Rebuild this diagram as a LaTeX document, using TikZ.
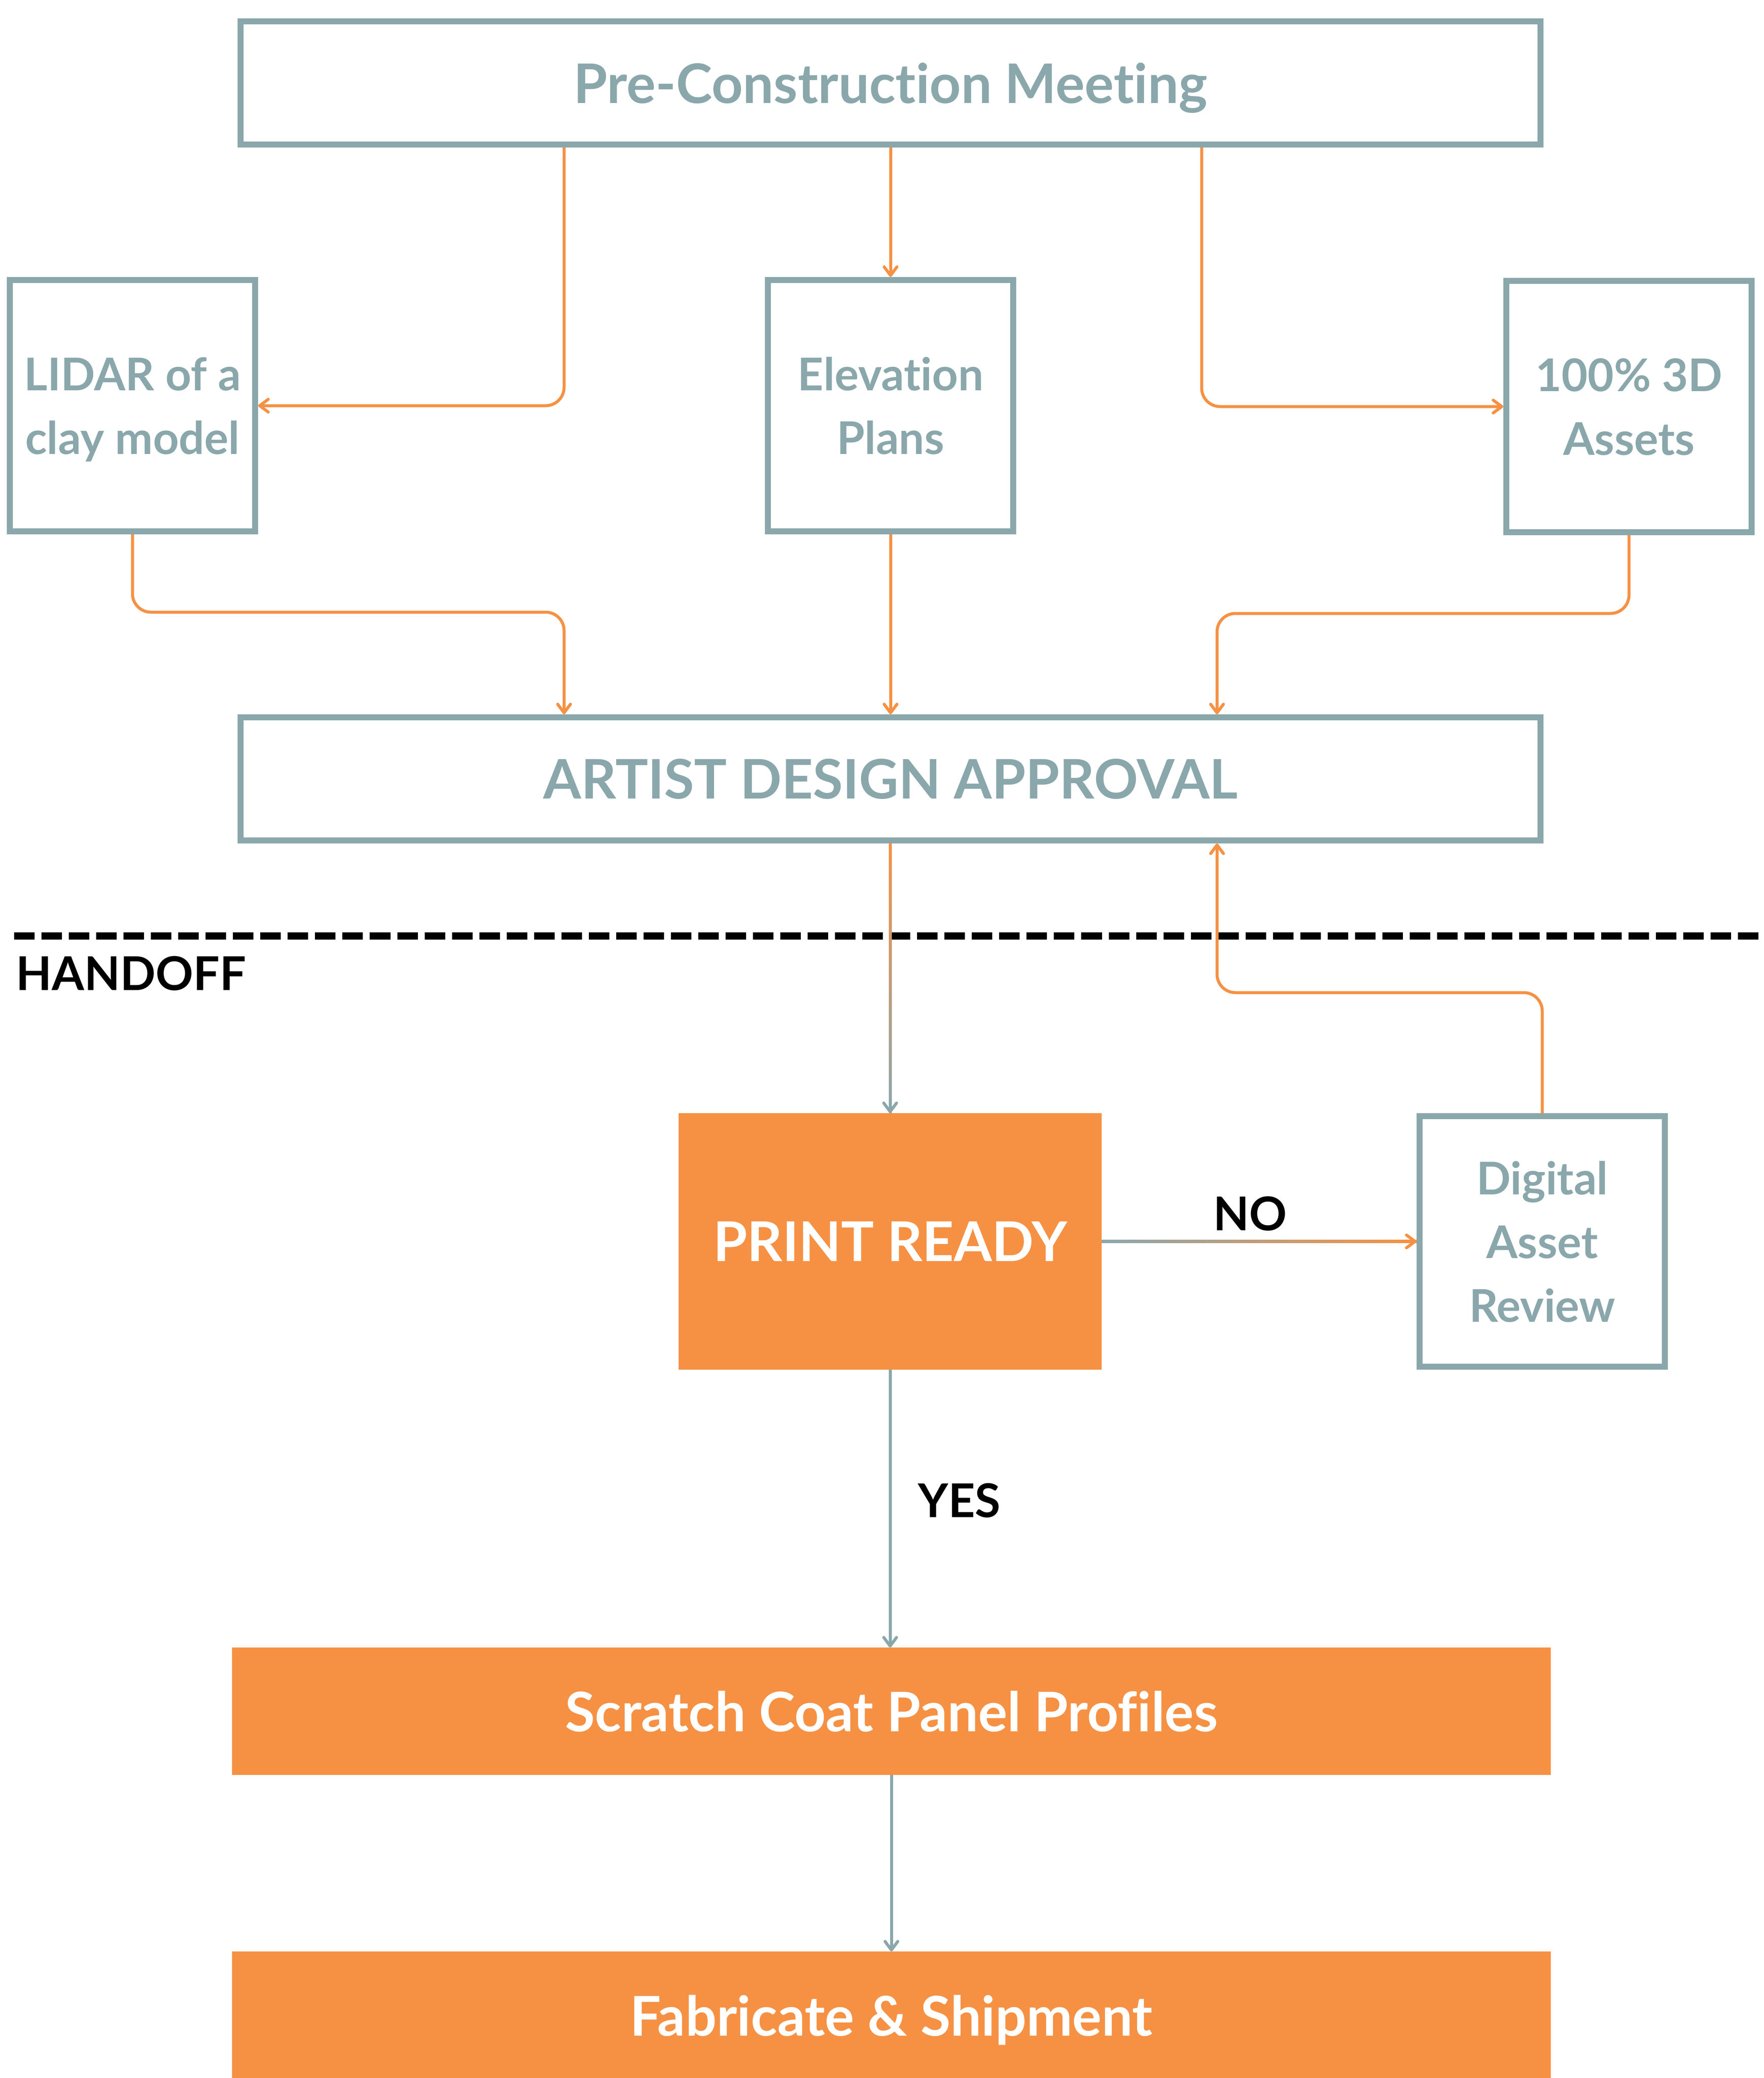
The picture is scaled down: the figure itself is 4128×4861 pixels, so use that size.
\documentclass[tikz,border=0pt]{standalone}
\usepackage{fontspec}
\setmainfont{Lato}[Ligatures=NoCommon]
\usetikzlibrary{positioning}
\usetikzlibrary{arrows.meta}

\definecolor{gris}{RGB}{138,167,172}
\definecolor{naranja}{RGB}{246,145,68}

\tikzset{
	caja/.style={draw=gris, line width=0.14cm, fill=white, inner sep=0pt, align=center, text depth=0pt, text=gris, font=\bfseries\fontsize{30}{42.4}\selectfont, minimum width=5.74cm, minimum height=5.88cm},
	ancha/.style={caja, minimum width=30.40cm, minimum height=2.88cm, font=\bfseries\fontsize{36.3}{44}\selectfont},
	llena/.style={fill=naranja, outer sep=0pt, inner sep=0pt, text depth=0pt, text=white, font=\bfseries\fontsize{36.5}{44}\selectfont},
	etiqueta/.style={inner sep=0pt, text=black, font=\bfseries\fontsize{31}{37}\selectfont},
	flecha/.style={naranja, line width=0.07cm, rounded corners=0.43cm, -{Straight Barb[length=5.7pt, width=8.5pt, round]}},
	flechagris/.style={flecha, gris},
	corte/.style={black, line width=0.17cm, dash pattern=on 0.48cm off 0.16cm}
}

\begin{document}
\begin{tikzpicture}[x=0.01cm, y=-0.01cm]
	\useasboundingbox (0,0) rectangle (4128,4861);

	% Cajas
	\node[ancha] (pcm) at (2084,194) {Pre-Construction Meeting};
	\node[caja] (lidar) at (310,949) {LIDAR of a\\clay model};
	\node[caja] (elev) at (2084,949) {Elevation\\Plans};
	\node[caja] (tresd) at (3812,951) {100\% 3D\\Assets};
	\node[ancha] (ada) at (2084,1822) {ARTIST DESIGN APPROVAL};
	\node[llena, minimum width=9.9cm, minimum height=6cm] (print) at (2083,2904) {PRINT READY};
	\node[caja, minimum height=5.86cm] (dar) at (3609,2904) {Digital\\Asset\\Review};
	\node[llena, minimum width=30.84cm, minimum height=2.98cm, font=\bfseries\fontsize{36.3}{44}\selectfont] (scratch) at (2086,4003) {Scratch Coat Panel Profiles};
	\node[llena, minimum width=30.84cm, minimum height=3cm] (fab) at (2086,4715) {Fabricate \& Shipment};

	% Coordenadas de los codos
	\coordinate (c1) at (1320,949);
	\coordinate (c2) at (1320,1432);
	\coordinate (c3) at (2848,1435);
	\coordinate (c4) at (2812,951);
	\coordinate (r1) at (2848,2322);

	% Flechas de arriba
	\draw[flecha] (pcm.south -| c1) |- (lidar.east);
	\draw[flecha] (pcm.south) -- (elev.north);
	\draw[flecha] (pcm.south -| c4) |- (tresd.west);
	\draw[flecha] (lidar.south) |- (c2) -- (ada.north -| c2);
	\draw[flecha] (elev.south) -- (ada.north);
	\draw[flecha] (tresd.south) |- (c3) -- (ada.north -| c3);

	% Linea de entrega
	\coordinate (h1) at (33,2189);
	\coordinate (h2) at (4128,2189);
	\draw[corte] (h1) -- (h2);
	\node[etiqueta, anchor=west] (handoff) at (37,2277) {HANDOFF};

	% Flechas con degradado
	\shade[top color=naranja, bottom color=gris] ([xshift=-0.035cm]ada.south) rectangle ([xshift=0.035cm]print.north);
	\draw[flechagris] ([yshift=0.3cm]print.north) -- (print.north);
	\shade[left color=gris, right color=naranja] ([yshift=-0.035cm]print.east) rectangle ([yshift=0.035cm]dar.west);
	\draw[flecha] ([xshift=-0.3cm]dar.west) -- (dar.west);
	\node[etiqueta] (no) at (2925,2839) {NO};

	% Vuelta a la aprobacion
	\draw[flecha] (dar.north) |- (r1) -- (ada.south -| r1);

	% Abajo
	\draw[flechagris] (print.south) -- (print.south |- scratch.north);
	\node[etiqueta] (yes) at (2245,3510) {YES};
	\draw[flechagris] (scratch.south) -- (fab.north);
\end{tikzpicture}
\end{document}
